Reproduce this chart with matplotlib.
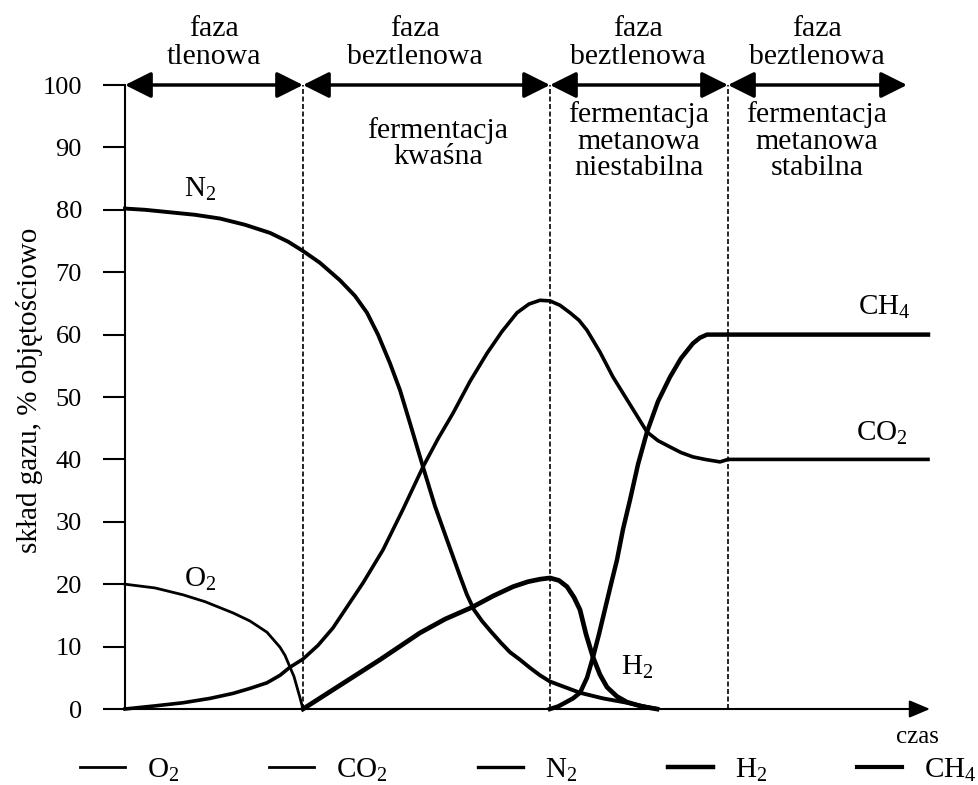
import matplotlib
matplotlib.use("Agg")
import matplotlib.pyplot as plt
from matplotlib.lines import Line2D

plt.rcParams['font.family'] = ['Liberation Serif', 'DejaVu Serif']
plt.rcParams['mathtext.fontset'] = 'custom'
plt.rcParams['mathtext.rm'] = 'Liberation Serif'
plt.rcParams['mathtext.it'] = 'Liberation Serif:italic'

# time axis in arbitrary units, phase boundaries
bounds = [0, 17.8, 42.5, 60.3, 78.2]
x_end = 80.5

o2_t = [0, 3, 5.8, 8, 10.8, 12.5, 14.2, 15.5, 16, 16.5, 16.9, 17.2, 17.5, 17.8]
o2_v = [20, 19.4, 18.3, 17.2, 15.4, 14.1, 12.3, 9.9, 8.6, 6.7, 5.2, 3.5, 1.8, 0]

co2_t = [0, 3, 5.8, 8.5, 10.8, 12.5, 14.2, 15.5, 16.5, 17.8, 19.3, 20.8, 22.3, 23.8, 25.8,
         27.8, 29.8, 31.3, 32.8, 34.5, 36.2, 37.7, 39.2, 40.4, 41.5, 42.5, 43.5, 44.5, 45.4,
         46.2, 47.5, 48.8, 50.5, 52.2, 53.3, 54.5, 55.6, 56.8, 58, 59.5, 60.3, 80.3]
co2_v = [0, 0.5, 1, 1.7, 2.5, 3.3, 4.2, 5.4, 6.7, 8, 10.2, 13, 16.6, 20.2, 25.5,
         32, 38.8, 43.3, 47.4, 52.5, 57, 60.5, 63.5, 64.9, 65.5, 65.4, 64.7, 63.5, 62.3,
         60.7, 57.2, 53.2, 48.8, 44.4, 43, 42, 41.1, 40.4, 40, 39.6, 40, 40]

n2_t = [0, 2, 4.5, 7, 9.5, 12, 14.5, 16.3, 17.8, 19.5, 21.5, 23, 24.2, 25.3, 26.5, 27.5, 28.5,
        29.8, 31, 32.2, 33.5, 34.2, 34.9, 35.7, 36.6, 37.6, 38.5, 39.5, 40.5, 41.5, 42.5, 44,
        45.5, 47.8, 50.2, 51.7, 53.2]
n2_v = [80.2, 80, 79.6, 79.2, 78.6, 77.6, 76.3, 74.9, 73.4, 71.5, 68.7, 66.2, 63.5, 60, 55.4,
        51.1, 45.8, 38.8, 32.5, 27.1, 21.3, 18.3, 15.9, 14.1, 12.4, 10.6, 9.1, 7.9, 6.6, 5.4,
        4.4, 3.5, 2.6, 1.7, 1.0, 0.5, 0]

h2_t = [17.8, 21.5, 25.5, 29.5, 32, 34.7, 36.8, 38.8, 40.3, 41.5, 42.5, 43.4, 44.2, 44.9,
        45.5, 46.1, 46.8, 47.5, 48.2, 49.2, 50.2, 51.7, 53.2]
h2_v = [0, 3.8, 7.9, 12.2, 14.4, 16.3, 18.1, 19.6, 20.4, 20.8, 21, 20.6, 19.6, 17.9,
        15.9, 12, 8.3, 5.5, 3.5, 2, 1.1, 0.4, 0]

ch4_t = [42.5, 43.3, 44, 44.8, 45.5, 46.2, 46.8, 47.4, 48, 48.6, 49.2, 49.8, 50.5, 51.3,
         52.2, 53.3, 54.5, 55.6, 56.8, 57.5, 58.2, 80.3]
ch4_v = [0, 0.4, 1, 1.7, 2.6, 5, 8.3, 12, 16, 20, 23.9, 28.8, 33.5, 39.2,
         44.4, 49.3, 53.2, 56.2, 58.6, 59.5, 60, 60]

phase_top = ['faza\ntlenowa', 'faza\nbeztlenowa', 'faza\nbeztlenowa', 'faza\nbeztlenowa']
phase_top_x = [8.9, 29.0, 51.3, 69.2]
phase_sub = ['fermentacja\nkwaśna', 'fermentacja\nmetanowa\nniestabilna', 'fermentacja\nmetanowa\nstabilna']
phase_sub_x = [31.3, 51.4, 69.2]

fig = plt.figure(figsize=(9.79, 7.85), dpi=100)
ax = fig.add_axes([125/979, 76/785, 805/979, 624/785])

ax.plot(o2_t, o2_v, color='k', lw=2.0, clip_on=False)
ax.plot(co2_t, co2_v, color='k', lw=2.6, clip_on=False)
ax.plot(n2_t, n2_v, color='k', lw=2.8, clip_on=False)
ax.plot(h2_t, h2_v, color='k', lw=3.4, clip_on=False)
ax.plot(ch4_t, ch4_v, color='k', lw=3.2, clip_on=False)

ax.vlines(bounds[1:4], 0, 100, colors='k', lw=1.2, linestyles=(0, (3, 1.5)))

ax.set_xlim(0, x_end)
ax.set_ylim(0, 100)
ax.set_yticks(range(0, 101, 10))
ax.set_xticks([])
for s in ['top', 'right', 'bottom']:
    ax.spines[s].set_visible(False)
ax.spines['left'].set_linewidth(1.5)
ax.tick_params(axis='y', length=16, width=1.5, pad=15, labelsize=19)

# x axis arrow
ax.annotate('', xy=(x_end, 0), xytext=(0, 0), annotation_clip=False,
            arrowprops=dict(arrowstyle='-|>,head_length=0.9,head_width=0.38', mutation_scale=14,
                            lw=1.5, color='k', shrinkA=0, shrinkB=0))

# phase arrows at top
for a, b in zip(bounds[:-1], bounds[1:]):
    ax.annotate('', xy=(b, 100), xytext=(a, 100), annotation_clip=False,
                arrowprops=dict(arrowstyle='<|-|>,head_length=1.0,head_width=0.5', mutation_scale=16,
                                lw=2.5, color='k', shrinkA=0, shrinkB=0))

for txt, x in zip(phase_top, phase_top_x):
    ax.text(x, 106.7, txt, ha='center', va='center', fontsize=21.5, linespacing=1.12)
for txt, x in zip(phase_sub, phase_sub_x):
    y = 90.6 if txt.count('\n') == 1 else 91.0
    ax.text(x, y, txt, ha='center', va='center', fontsize=21.5, linespacing=1.02)

# curve labels
ax.text(7.5, 83.2, 'N$_2$', ha='center', va='center', fontsize=21)
ax.text(7.5, 20.7, 'O$_2$', ha='center', va='center', fontsize=21)
ax.text(51.2, 6.7, 'H$_2$', ha='center', va='center', fontsize=21)
ax.text(75.9, 64.3, 'CH$_4$', ha='center', va='center', fontsize=21)
ax.text(75.7, 44.2, 'CO$_2$', ha='center', va='center', fontsize=21)
ax.text(79.2, -4.5, 'czas', ha='center', va='center', fontsize=18)

fig.text(30/979, 1 - 390/785, 'skład gazu, % objętościowo', rotation=90,
         ha='center', va='center', fontsize=21)

labels = ['O$_2$', 'CO$_2$', 'N$_2$', 'H$_2$', 'CH$_4$']
handles = [Line2D([], [], color='k', lw=w) for w in [2.0, 2.0, 2.4, 3.2, 3.0]]
fig.legend(handles, labels, ncol=5, loc='center left', bbox_to_anchor=(80/979, 15/785),
           frameon=False, fontsize=21, handlelength=1.54, handletextpad=0.75,
           columnspacing=3.1, borderpad=0, borderaxespad=0)

fig.savefig('out.png', dpi=100)
